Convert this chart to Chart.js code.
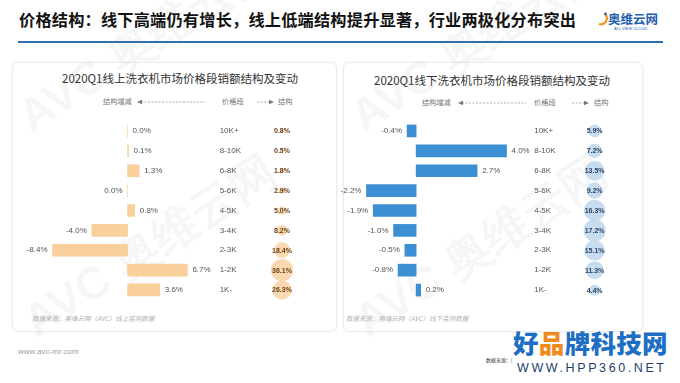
<!DOCTYPE html>
<html>
<head>
<meta charset="utf-8">
<script src="https://cdn.jsdelivr.net/npm/chart.js@4.4.1/dist/chart.umd.min.js"></script>
<style>
  html, body { margin: 0; padding: 0; }
  body { width: 680px; height: 383px; position: relative; overflow: hidden; background: #fff;
         font-family: "Noto Sans CJK SC", "Noto Sans", sans-serif; }
  .abs { position: absolute; white-space: nowrap; }
  .title { left: 19px; top: 7px; font-size: 16.2px; font-weight: bold; color: #111; letter-spacing: 0.2px; }
  .rule { left: 18px; top: 41px; width: 645px; height: 2px; background: #2f6fb0; }
  .card { border: 1px solid #ececec; border-radius: 6px; box-shadow: 0 0 3px rgba(0,0,0,0.06); background: transparent; }
  .ctitle { font-size: 11.5px; color: #333; }
  .hdr { font-size: 7.2px; color: #777; line-height: 9px; }
  .note { font-size: 6.5px; color: #b0b0b0; font-style: italic; }
  .wm { font-family: "Liberation Sans", sans-serif; font-weight: bold; color: rgba(120,120,120,0.07);
        transform: rotate(-33deg); transform-origin: left bottom; }
  canvas { position: absolute; }
</style>
</head>
<body>
<div class="abs title">价格结构：线下高端仍有增长，线上低端结构提升显著，行业两极化分布突出</div>
<div class="abs rule"></div>

<!-- logo top right -->
<div class="abs" style="left:594px;top:8px;width:68px;height:26px;background:#fff;"></div>
<svg class="abs" style="left:596px;top:11px" width="12" height="16">
  <path d="M3 13 A6 6 0 0 0 9 3" stroke="#f39a1e" stroke-width="2.2" fill="none"/>
  <circle cx="9.5" cy="3" r="1.4" fill="#1f5fae"/>
</svg>
<div class="abs" style="left:608px;top:9px;font-size:12.5px;font-weight:bold;color:#1f5fae;">奥维云网</div>
<div class="abs" style="left:614px;top:26px;font-size:4px;color:#1f5fae;font-family:'Liberation Sans',sans-serif;">ALL VIEW CLOUD</div>

<!-- cards -->
<div class="abs card" style="left:12px;top:62px;width:323px;height:268px;"></div>
<div class="abs card" style="left:343px;top:62px;width:298px;height:268px;"></div>

<!-- watermarks -->
<div class="abs wm" style="left:40px;top:85px;font-size:46px;">AVC 奥维云网</div>
<div class="abs wm" style="left:45px;top:290px;font-size:46px;">AVC 奥维云网</div>
<div class="abs wm" style="left:372px;top:85px;font-size:46px;">AVC 奥维云网</div>
<div class="abs wm" style="left:376px;top:290px;font-size:46px;">AVC 奥维云网</div>

<div class="abs ctitle" style="left:62px;top:70px;">2020Q1线上洗衣机市场价格段销额结构及变动</div>
<div class="abs ctitle" style="left:374px;top:72px;">2020Q1线下洗衣机市场价格段销额结构及变动</div>

<!-- column headers, left -->
<div class="abs hdr" style="left:103px;top:97px;">结构增减</div>
<svg class="abs" style="left:137px;top:98px" width="70" height="8">
  <line x1="4" y1="4" x2="68" y2="4" stroke="#999" stroke-width="0.8" stroke-dasharray="2,1.5"/>
  <path d="M0 4 L5 1.8 L5 6.2 Z" fill="#777"/>
</svg>
<div class="abs hdr" style="left:222px;top:97px;">价格段</div>
<svg class="abs" style="left:257px;top:98px" width="18" height="8">
  <line x1="0" y1="4" x2="13" y2="4" stroke="#999" stroke-width="0.8" stroke-dasharray="2,1.5"/>
  <path d="M17 4 L12 1.8 L12 6.2 Z" fill="#777"/>
</svg>
<div class="abs hdr" style="left:278px;top:97px;">结构</div>

<!-- column headers, right -->
<div class="abs hdr" style="left:422px;top:98px;">结构增减</div>
<svg class="abs" style="left:458px;top:99px" width="70" height="8">
  <line x1="4" y1="4" x2="68" y2="4" stroke="#999" stroke-width="0.8" stroke-dasharray="2,1.5"/>
  <path d="M0 4 L5 1.8 L5 6.2 Z" fill="#777"/>
</svg>
<div class="abs hdr" style="left:534px;top:98px;">价格段</div>
<svg class="abs" style="left:572px;top:99px" width="18" height="8">
  <line x1="0" y1="4" x2="13" y2="4" stroke="#999" stroke-width="0.8" stroke-dasharray="2,1.5"/>
  <path d="M17 4 L12 1.8 L12 6.2 Z" fill="#777"/>
</svg>
<div class="abs hdr" style="left:594px;top:98px;">结构</div>

<canvas id="online" style="left:16px;top:110px;" width="318" height="201"></canvas>
<canvas id="offline" style="left:328px;top:110px;" width="312" height="201"></canvas>

<div class="abs note" style="left:32px;top:313px;">数据来源：奥维云网（AVC）线上监测数据</div>
<div class="abs note" style="left:346px;top:313px;">数据来源：奥维云网（AVC）线下监测数据</div>

<div class="abs" style="left:18px;top:347px;font-size:8px;color:#a0a0a0;font-family:'Liberation Sans',sans-serif;">www.avc-mr.com</div>
<div class="abs" style="left:486px;top:356px;font-size:5px;color:#333;">数据来源：|</div>
<div class="abs" style="left:513px;top:326px;font-size:25.5px;font-weight:900;color:#1e6fc4;letter-spacing:0.3px;line-height:32px;">好<span style="color:#f08a1c">品</span>牌科技网</div>
<div class="abs" style="left:517px;top:361px;font-size:12.5px;color:#1d3f6e;letter-spacing:2.6px;font-family:'Liberation Sans',sans-serif;line-height:14px;">WWW.HPP360.NET</div>

<script>
// price bands, top to bottom
const priceBands = ['10K+', '8-10K', '6-8K', '5-6K', '4-5K', '3-4K', '2-3K', '1-2K', '1K-'];

// online: change in share (pct points) and share (%)
// -0.0 on 5-6K: shown as "0.0%" on the negative side in the source
const onlineChange = [0.0, 0.1, 1.3, -0.0, 0.8, -4.0, -8.4, 6.7, 3.6];
const onlineShare = [0.8, 0.5, 1.8, 2.9, 5.0, 8.2, 18.4, 36.1, 26.3];

// offline
const offlineChange = [-0.4, 4.0, 2.7, -2.2, -1.9, -1.0, -0.5, -0.8, 0.2];
const offlineShare = [5.9, 7.2, 13.5, 9.2, 16.3, 17.2, 15.1, 11.3, 4.4];

function fmt(v) {
    return (v < 0 ? '-' : '') + Math.abs(v).toFixed(1) + '%';
}

const rowLabels = {
    id: 'rowLabels',
    afterDatasetsDraw(chart, args, opts) {
        const ctx = chart.ctx;
        const bars = chart.getDatasetMeta(0).data;
        const bubbles = chart.getDatasetMeta(1).data;
        const vals = chart.data.datasets[0].data;
        const shares = chart.data.datasets[1].data;
        const xs = chart.scales.x;
        ctx.save();
        ctx.textBaseline = 'middle';
        bars.forEach((bar, i) => {
            const v = vals[i];
            const neg = v < 0 || Object.is(v, -0);
            ctx.font = '8px "Liberation Sans", Arial, sans-serif';
            ctx.fillStyle = '#555';
            ctx.textAlign = neg ? 'right' : 'left';
            ctx.fillText(fmt(v), bar.x + (neg ? -5 : 5), bar.y);

            ctx.textAlign = 'left';
            ctx.fillText(chart.data.labels[i], xs.getPixelForValue(opts.priceAt), bar.y);

            const b = bubbles[i];
            ctx.font = 'bold 7px "Liberation Sans", Arial, sans-serif';
            ctx.textAlign = 'center';
            ctx.fillStyle = opts.shareText;
            ctx.fillText(shares[i].v.toFixed(1) + '%', b.x, b.y + 0.5);
        });
        ctx.restore();
    }
};

// layout in canvas pixels: where zero sits, px per pct point, label and bubble columns
function drawPanel(id, changes, shares, cfg) {
    const canvas = document.getElementById(id);
    const w = canvas.width;
    const toVal = px => (px - cfg.zeroPx) / cfg.ppu;

    new Chart(canvas.getContext('2d'), {
        type: 'bar',
        data: {
            labels: priceBands,
            datasets: [{
                type: 'bar',
                data: changes,
                backgroundColor: cfg.barColor,
                barThickness: 12,
                order: 2
            }, {
                type: 'bubble',
                data: shares.map((s, i) => ({ x: toVal(cfg.bubblePx), y: priceBands[i], r: cfg.k * Math.sqrt(s), v: s })),
                backgroundColor: cfg.bubbleColor,
                borderWidth: 0,
                clip: false,
                order: 1
            }]
        },
        options: {
            indexAxis: 'y',
            responsive: false,
            animation: false,
            events: [],
            layout: { padding: { top: 10, bottom: 10, left: 0, right: 0 } },
            plugins: {
                legend: { display: false },
                tooltip: { enabled: false },
                rowLabels: { priceAt: toVal(cfg.pricePx), shareText: cfg.shareText }
            },
            scales: {
                x: { type: 'linear', min: toVal(0), max: toVal(w), display: false },
                y: { type: 'category', offset: true, display: false }
            }
        },
        plugins: [rowLabels]
    });
}

drawPanel('online', onlineChange, onlineShare, {
    zeroPx: 108, ppu: 9.6, pricePx: 207, bubblePx: 274, k: 1.85,
    barColor: '#f9cf9c', bubbleColor: '#fad9b0', shareText: '#6b4218'
});

drawPanel('offline', offlineChange, offlineShare, {
    zeroPx: 83, ppu: 24.3, pricePx: 210, bubblePx: 275, k: 2.65,
    barColor: '#3d8fd3', bubbleColor: '#c8dcef', shareText: '#2a4666'
});
</script>
</body>
</html>
